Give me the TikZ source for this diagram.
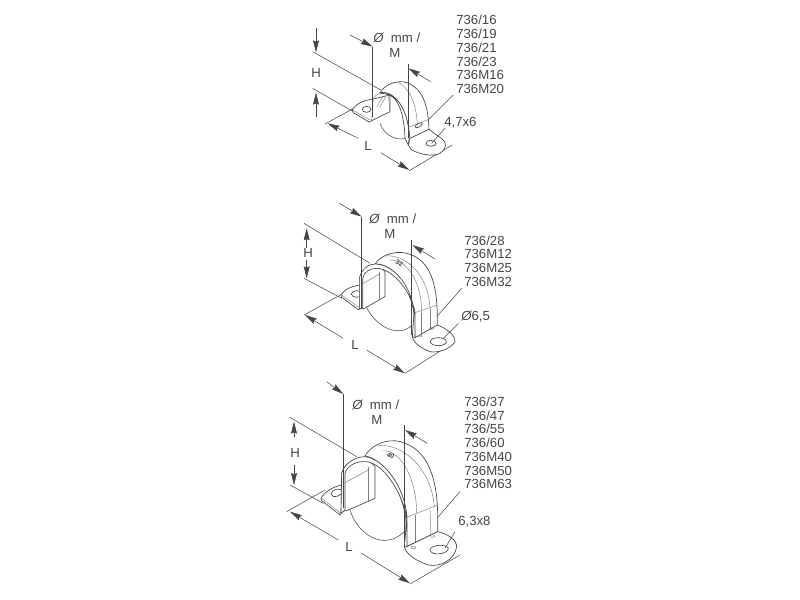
\documentclass[tikz,border=0pt]{standalone}
\usepackage{fontspec}
\setmainfont{Liberation Sans}
\usepackage{xcolor}
\usetikzlibrary{arrows.meta}
\definecolor{inkgray}{HTML}{454545}
\tikzset{
  dimline/.style={draw=inkgray, line width=0.4pt},
  dimarrow/.style={dimline, -{Stealth[length=9pt,width=4.5pt,inset=1pt]}},
  partline/.style={draw=inkgray, line width=0.5pt, fill=white, line join=round},
  discline/.style={draw=inkgray, line width=0.4pt},
  thinline/.style={draw=inkgray!70, line width=0.35pt},
  labeltext/.style={text=inkgray, font=\fontsize{9.9}{10.3}\selectfont, inner sep=0pt, align=left, anchor=west},
  numtext/.style={rotate=-25, text=inkgray, font=\fontsize{5}{5}\selectfont\bfseries, inner sep=0pt},
  dimone/.style={shift={(290,10)}, x=0.25pt, y=-0.25pt},
  dimtwo/.style={shift={(280,195)}, x=0.25pt, y=-0.25pt},
  dimthree/.style={shift={(270,385)}, x=0.25pt, y=-0.25pt},
  clampone/.style={shift={(345,70)}, x=0.25pt, y=-0.25pt},
  clamptwo/.style={shift={(340,240)}, x=0.25pt, y=-0.25pt},
  clampthree/.style={shift={(315,430)}, x=0.25pt, y=-0.25pt}
}
\begin{document}
\begin{tikzpicture}[x=0.75pt, y=-0.75pt]
  \useasboundingbox (0,0) rectangle (800,600);
  % dimension lines, top
  \begin{scope}[dimone]
    \draw[dimline] (68,125) -- (272,240);
    \draw[dimline] (68,235) -- (190,305);
    \draw[dimarrow] (78,55) -- (78,127);
    \draw[dimarrow] (78,322) -- (78,248);
    \draw[dimline] (105,342) -- (200,290);
    \draw[dimarrow] (205,385) -- (113,340);
    \draw[dimarrow] (272,428) -- (358,480);
    \draw[dimline] (358,482) -- (487,405);
    \draw[dimarrow] (180,75) -- (248,110);
    \draw[dimarrow] (422,215) -- (355,175);
    \draw[dimline] (490,255) -- (410,335);
  \end{scope}
  % dimension lines, middle
  \begin{scope}[dimtwo]
    \draw[dimline] (72,85) -- (270,205);
    \draw[dimline] (72,250) -- (185,310);
    \draw[dimarrow] (80,160) -- (80,100);
    \draw[dimarrow] (80,195) -- (80,250);
    \draw[dimline] (72,360) -- (190,295);
    \draw[dimarrow] (190,430) -- (75,360);
    \draw[dimarrow] (260,465) -- (375,535);
    \draw[dimline] (375,535) -- (525,440);
    \draw[dimarrow] (178,25) -- (245,65);
    \draw[dimarrow] (465,192) -- (397,150);
    \draw[dimline] (545,280) -- (470,365);
  \end{scope}
  % dimension lines, bottom
  \begin{scope}[dimthree]
    \draw[dimline] (60,97) -- (260,215);
    \draw[dimline] (60,300) -- (160,355);
    \draw[dimarrow] (72,155) -- (72,110);
    \draw[dimarrow] (72,240) -- (72,300);
    \draw[dimline] (50,380) -- (165,315);
    \draw[dimarrow] (205,465) -- (60,380);
    \draw[dimarrow] (275,505) -- (420,595);
    \draw[dimline] (420,597) -- (570,510);
    \draw[dimarrow] (170,-10) -- (220,27);
    \draw[dimarrow] (472,175) -- (405,135);
    \draw[dimline] (570,320) -- (505,395);
  \end{scope}
  % top clamp
  \begin{scope}[clampone]
    \draw[discline] (105,160) .. controls (118,200) and (165,218) .. (190,200);
    \draw[partline] (22,120) .. controls (32,100) and (60,90) .. (85,87) -- (135,75) -- (135,125) -- (80,152) -- (72,156) -- (25,128) -- cycle;
    \draw[partline] (65,118) ellipse (13 and 9);
    \draw[thinline] (25,121) -- (72,149) -- (80,150);
    \draw[thinline] (80,150) -- (85,85) .. controls (92,72) and (118,62) .. (130,75) -- (135,125);
    \draw[thinline] (96,110) -- (114,78) (104,113) -- (122,80);
    \draw[partline] (105,68) .. controls (125,35) and (170,28) .. (195,42) .. controls (235,62) and (250,110) .. (252,180) -- (195,207) .. controls (188,130) and (160,65) .. (105,68) -- cycle;
    \draw[thinline] (160,37) .. controls (195,55) and (215,105) .. (217,165);
    \draw[thinline] (190,172) -- (252,148);
    \draw[partline] (210,170) .. controls (215,160) and (232,155) .. (232,160) .. controls (230,170) and (212,178) .. (210,170) -- cycle;
    \draw[partline] (105,68) .. controls (150,60) and (190,120) .. (193,200) -- (190,225) -- (180,205) .. controls (178,135) and (160,75) .. (122,72) -- cycle;
    \draw[partline] (190,225) -- (195,205) -- (252,178) -- (295,210) .. controls (308,222) and (300,240) .. (285,250) .. controls (260,262) and (225,252) .. (200,240) -- cycle;
    \draw[partline] (258,220) ellipse (15 and 9);
  \end{scope}
  % middle clamp
  \begin{scope}[clamptwo]
    \draw[discline] (75,190) .. controls (95,250) and (170,300) .. (217,255);
    \draw[partline] (3,165) .. controls (13,148) and (35,138) .. (62,135) -- (58,207) -- (55,209) -- (5,172) -- cycle;
    \draw[partline] (50,162) ellipse (16 and 10);
    \draw[thinline] (5,165) -- (55,201) -- (58,200);
    \draw[partline] (60,200) -- (60,115) .. controls (66,90) and (90,72) .. (118,78) -- (135,95) -- (135,170) -- (70,207) -- cycle;
    \draw[thinline] (118,95) -- (118,178);
    \draw[thinline] (70,130) -- (118,102);
    \draw[partline] (105,72) .. controls (125,40) and (180,28) .. (215,45) .. controls (265,65) and (292,120) .. (292,235) -- (292,258) -- (225,295) -- (222,220) .. controls (210,140) and (160,70) .. (105,72) -- cycle;
    \draw[thinline] (130,48) .. controls (195,40) and (265,100) .. (270,205);
    \draw[thinline] (150,60) .. controls (205,60) and (245,130) .. (245,218);
    \draw[thinline] (225,218) -- (292,195);
    \draw[thinline] (245,218) -- (245,285);
    \draw[thinline] (270,207) -- (270,270);
    \draw[partline] (58,207) -- (58,115) .. controls (64,88) and (85,72) .. (105,72) .. controls (160,72) and (218,140) .. (222,220) -- (217,290) -- (225,298) -- (225,215) .. controls (208,140) and (150,85) .. (110,85) .. controls (90,85) and (72,95) .. (68,115) -- (68,205) -- cycle;
    \draw[partline] (217,290) .. controls (220,310) and (245,325) .. (270,335) .. controls (295,340) and (335,325) .. (345,305) .. controls (345,285) and (320,265) .. (292,255) -- (225,293) -- cycle;
    \draw[partline] (295,305) ellipse (24 and 12);
    \draw[thinline] (240,288) ellipse (6 and 3);
    \draw[thinline] (275,265) ellipse (6 and 3);
    \node[numtext] (numtwo) at (178,70) {32};
  \end{scope}
  % bottom clamp
  \begin{scope}[clampthree]
    \draw[discline] (105,240) .. controls (130,320) and (215,365) .. (272,300);
    \draw[partline] (18,205) .. controls (28,185) and (55,170) .. (80,165) -- (78,250) -- (75,255) -- (20,212) -- cycle;
    \draw[thinline] (20,205) -- (75,248) -- (78,248);
    \draw[partline] (48,192) .. controls (48,178) and (78,172) .. (82,183) .. controls (82,198) and (52,208) .. (48,192) -- cycle;
    \draw[partline] (80,245) -- (80,130) .. controls (90,100) and (120,80) .. (160,88) -- (180,110) -- (180,205) -- (100,240) -- cycle;
    \draw[thinline] (160,112) -- (160,212);
    \draw[thinline] (90,158) -- (160,120);
    \draw[partline] (150,78) .. controls (175,35) and (235,22) .. (270,40) .. controls (340,65) and (368,150) .. (368,260) -- (368,305) -- (275,350) -- (272,260) .. controls (255,170) and (205,85) .. (150,78) -- cycle;
    \draw[thinline] (185,48) .. controls (255,35) and (350,110) .. (358,232);
    \draw[thinline] (205,62) .. controls (260,62) and (305,150) .. (305,250);
    \draw[thinline] (275,262) -- (368,225);
    \draw[thinline] (302,255) -- (302,342);
    \draw[thinline] (345,240) -- (348,320);
    \draw[partline] (78,250) -- (80,130) .. controls (88,100) and (120,80) .. (150,80) .. controls (205,85) and (270,170) .. (276,262) -- (268,350) -- (276,352) -- (276,270) .. controls (265,190) and (205,100) .. (155,95) .. controls (120,92) and (95,110) .. (90,130) -- (90,240) -- cycle;
    \draw[partline] (268,350) .. controls (272,375) and (310,395) .. (340,405) .. controls (375,412) and (420,390) .. (425,350) .. controls (425,330) and (400,312) .. (368,305) -- (275,350) -- cycle;
    \draw[partline] (345,360) .. controls (345,345) and (395,340) .. (400,355) .. controls (400,372) and (350,380) .. (345,360) -- cycle;
    \draw[thinline] (295,352) ellipse (7 and 4);
    \draw[thinline] (352,318) ellipse (7 and 4);
    \node[numtext] (numthree) at (227,77) {40};
  \end{scope}
  % dimension lines in front of the clamps
  \begin{scope}[dimone]
    \draw[dimline] (248,110) -- (248,320);
    \draw[dimline] (355,162) -- (355,385);
    \draw[dimline] (465,355) -- (425,400);
  \end{scope}
  \begin{scope}[dimtwo]
    \draw[dimline] (245,65) -- (245,340);
    \draw[dimline] (395,135) -- (395,420);
    \draw[dimline] (535,385) -- (490,430);
  \end{scope}
  \begin{scope}[dimthree]
    \draw[dimline] (220,27) -- (220,370);
    \draw[dimline] (403,120) -- (403,470);
    \draw[dimline] (555,440) -- (525,490);
  \end{scope}
  % labels
  \node[labeltext] (listone) at (456,54.5) {736/16\\736/19\\736/21\\736/23\\736M16\\736M20};
  \node[labeltext] (diaone) at (373,38) {\itshape Ø\upshape\ \ mm /};
  \node[labeltext] (mone) at (389,53) {M};
  \node[labeltext] (hone) at (311,73) {H};
  \node[labeltext] (lone) at (364,146) {L};
  \node[labeltext] (holeone) at (444,123) {4,7x6};
  \node[labeltext] (listtwo) at (464,261) {736/28\\736M12\\736M25\\736M32};
  \node[labeltext] (diatwo) at (369,219) {\itshape Ø\upshape\ \ mm /};
  \node[labeltext] (mtwo) at (384,234) {M};
  \node[labeltext] (htwo) at (303,253) {H};
  \node[labeltext] (ltwo) at (351,345) {L};
  \node[labeltext] (holetwo) at (461,317) {\itshape Ø\upshape 6,5};
  \node[labeltext] (listthree) at (464,443) {736/37\\736/47\\736/55\\736/60\\736M40\\736M50\\736M63};
  \node[labeltext] (diathree) at (352,405) {\itshape Ø\upshape\ \ mm /};
  \node[labeltext] (mthree) at (371,420) {M};
  \node[labeltext] (hthree) at (290,453) {H};
  \node[labeltext] (lthree) at (345,547) {L};
  \node[labeltext] (holethree) at (458,522) {6,3x8};
\end{tikzpicture}
\end{document}
